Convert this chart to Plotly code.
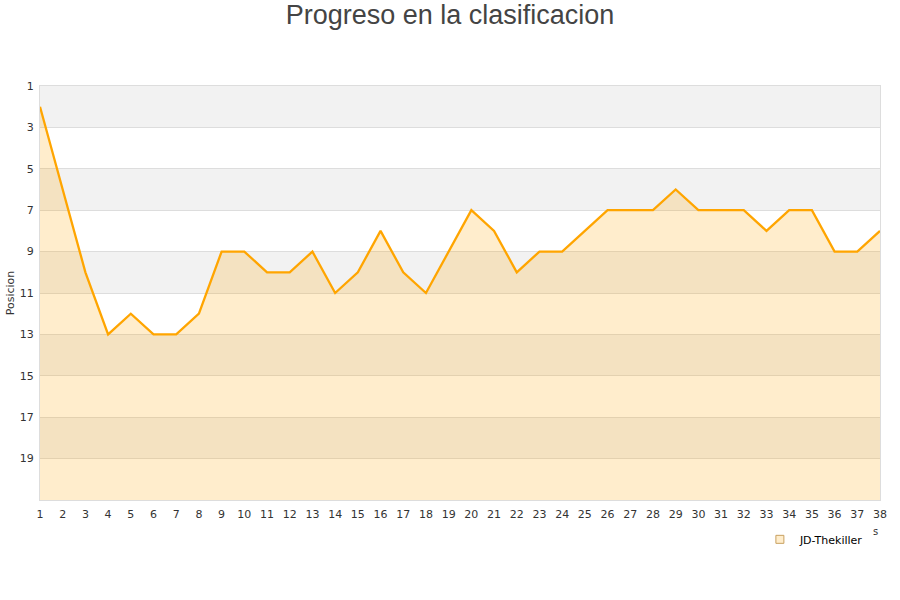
import plotly.graph_objects as go

jornadas = list(range(1, 39))
posiciones = [2, 6, 10, 13, 12, 13, 13, 12, 9, 9, 10, 10, 9, 11, 10, 8, 10, 11, 9, 7,
              8, 10, 9, 9, 8, 7, 7, 7, 6, 7, 7, 7, 8, 7, 7, 9, 9, 8]
y_ticks = [1, 3, 5, 7, 9, 11, 13, 15, 17, 19]
bands = [(1, 3), (5, 7), (9, 11), (13, 15), (17, 19)]
y_bottom = 21
series_name = "JD-Thekiller"

fig = go.Figure()
fig.add_trace(go.Scatter(x=jornadas, y=[y_bottom] * len(jornadas), mode="lines",
                         line=dict(width=0, color="rgba(0,0,0,0)"), showlegend=False,
                         hoverinfo="skip"))
fig.add_trace(go.Scatter(x=jornadas, y=posiciones, mode="lines", fill="tonexty",
                         fillcolor="rgba(255,165,0,0.2)",
                         line=dict(color="#FFA500", width=2.3), showlegend=False,
                         name=series_name))
fig.add_trace(go.Scatter(x=[None], y=[None], mode="markers", name=series_name,
                         marker=dict(symbol="square", size=8, color="#FFEDCC",
                                     line=dict(color="#C8A060", width=1))))

for a, b in bands:
    fig.add_shape(type="rect", xref="paper", yref="y", x0=0, x1=1, y0=a, y1=b,
                  fillcolor="#F2F2F2", line=dict(width=0), layer="below")

fig.update_layout(
    width=900, height=600,
    paper_bgcolor="white", plot_bgcolor="white",
    margin=dict(l=40, r=20, t=86, b=100),
    title=dict(text="Progreso en la clasificacion", x=0.5, xanchor="center",
               y=0.975, yanchor="middle",
               font=dict(family="Liberation Sans, Arial", size=27, color="#444444")),
    font=dict(family="DejaVu Sans, Verdana", size=11, color="#333333"),
    legend=dict(x=0.857, y=-0.060, xanchor="left", yanchor="top",
                font=dict(size=11, color="#000000"), bgcolor="rgba(0,0,0,0)"),
    xaxis=dict(range=[1, 38], tickmode="array", tickvals=jornadas, ticks="",
               showgrid=False, zeroline=False, showline=True, linecolor="#dddddd",
               mirror=True, ticklabelstandoff=4, automargin=False,
               tickfont=dict(size=11, color="#333333")),
    yaxis=dict(range=[y_bottom, 1], tickmode="array", tickvals=y_ticks, ticks="",
               showgrid=True, gridcolor="#dddddd", zeroline=False, showline=True,
               linecolor="#dddddd", mirror=True, ticklabelstandoff=3, automargin=False,
               title=dict(text="Posicion", standoff=2, font=dict(size=11, color="#333333")),
               tickfont=dict(size=11, color="#333333")),
)
fig.add_annotation(text="s", xref="paper", yref="paper", x=(875 - 40) / 840,
                   y=(500 - 531) / 414, xanchor="center", yanchor="middle",
                   showarrow=False, font=dict(size=10, color="#333333"))

fig.write_html("out.html", config={"displayModeBar": False},
               post_script="document.body.style.margin='0';")
